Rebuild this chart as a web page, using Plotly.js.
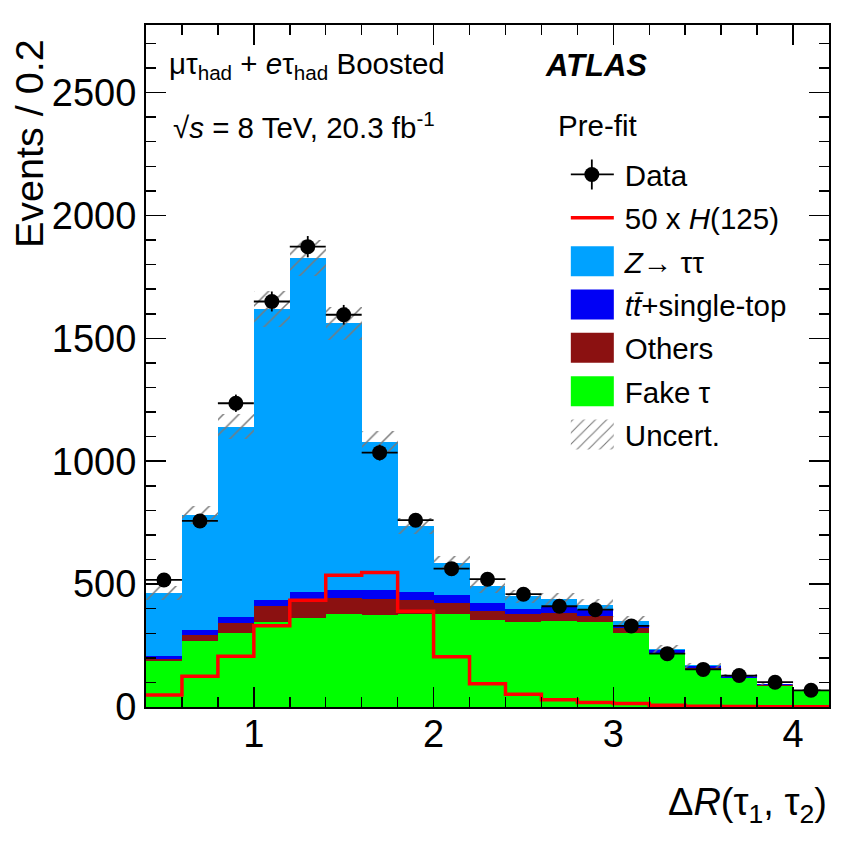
<!DOCTYPE html>
<html>
<head>
<meta charset="utf-8">
<script src="https://cdn.plot.ly/plotly-3.0.1.min.js"></script>
<style>html,body{margin:0;padding:0;background:#fff;}#chart{width:848px;height:850px;}</style>
</head>
<body>
<div id="chart"></div>
<script>
// Bin edges and centres of ΔR(τ1, τ2), width 0.2
const binLow = [0.4,0.6,0.8,1.0,1.2,1.4,1.6,1.8,2.0,2.2,2.4,2.6,2.8,3.0,3.2,3.4,3.6,3.8,4.0];
const binHigh = 4.2;
const binWidth = 0.2;

// Background processes (events per bin), stacked bottom-up: fake, others, top, Z->tautau
const fakeTau = [187,269,302,346,364,377,375,380,380,356,346,350,346,301,215,152,116,84,66];
const others  = [10,22,41,64,76,68,63,54,44,34,31,33,23,22,6,6,4,4,2];
const topBkg  = [11,24,24,27,26,33,38,32,31,35,23,25,25,10,10,8,5,4,2];
const ztautau = [256,467,774,1183,1360,1083,603,271,132,67,51,30,23,17,5,3,3,3,1];

// Total background uncertainty (half width of band)
const uncert  = [27,37,50,72,73,68,45,34,28,27,26,24,22,20,15,10,7,5,4];

// Data
const dataVals = [517,757,1236,1650,1873,1596,1035,760,563,520,459,410,396,330,217,153,128,101,68];

// Signal H(125) scaled by 50
const higgs50 = [49,125,206,331,434,536,547,390,204,95,52,30,18,14,7,3,2,1,1];

const centers = binLow.map(v => +(v + binWidth/2).toFixed(2));
function cum(arrs){ return arrs[0].map((_,i)=>arrs.reduce((s,a)=>s+a[i],0)); }
const cFake = cum([fakeTau]);
const cOthers = cum([fakeTau, others]);
const cTop = cum([fakeTau, others, topBkg]);
const cZ = cum([fakeTau, others, topBkg, ztautau]);

const FONT = 'Liberation Sans, Arial, Helvetica, sans-serif';

function barTrace(name, y, color, rank){
  return {type:'bar', x:centers, y:y, width:binWidth, name:name,
    marker:{color:color, line:{width:0}}, legendrank:rank, legendgroup:name, hoverinfo:'skip'};
}

const traces = [
  barTrace('<i>Z</i>\u2192 \u03c4\u03c4', cZ, '#00a2ff', 3),
  barTrace('<i>t</i><i>t\u0304</i>+single-top', cTop, '#0000f5', 4),
  barTrace('Others', cOthers, '#8b1111', 5),
  barTrace('Fake \u03c4', cFake, '#00ff00', 6),
  {type:'bar', x:centers, y:uncert.map(u=>2*u), base:cZ.map((t,i)=>t-uncert[i]), width:binWidth,
    name:'Uncert.', legendrank:7, legendgroup:'unc',
    marker:{color:'rgba(0,0,0,0)', line:{width:0},
      pattern:{shape:'/', fgcolor:'#7a7a7a', bgcolor:'rgba(0,0,0,0)', size:11, solidity:0.14}}},
  {type:'scatter', mode:'lines', x:binLow.concat([binHigh]), y:higgs50.concat([higgs50[higgs50.length-1]]),
    line:{shape:'hv', color:'#ff0000', width:3.5}, name:'50 x <i>H</i>(125)', legendrank:2, legendgroup:'h'},
  {type:'scatter', mode:'markers', x:centers, y:dataVals, name:'Data', legendrank:1, legendgroup:'data',
    marker:{color:'black', size:15, symbol:'circle'},
    error_x:{type:'constant', value:binWidth/2, color:'black', thickness:1.8, width:0},
    error_y:{type:'sqrt', color:'black', thickness:1.8, width:0}}
];

const txt = (t, x, y, size, extra) => Object.assign({text:t, xref:'paper', yref:'paper', x:x, y:y,
  xanchor:'left', yanchor:'middle', showarrow:false, font:{family:FONT, size:size, color:'black'}}, extra||{});

const layout = {
  width:848, height:850,
  margin:{l:146, r:19, t:25, b:143},
  paper_bgcolor:'white', plot_bgcolor:'white',
  barmode:'overlay', bargap:0,
  font:{family:FONT, color:'black'},
  showlegend:true,
  legend:{x:0.622, y:0.8185, xanchor:'left', yanchor:'top', bgcolor:'rgba(0,0,0,0)',
    font:{family:FONT, size:29.5, color:'black'}, traceorder:'grouped', tracegroupgap:2, itemwidth:44},
  xaxis:{range:[0.4,4.2], tick0:0, dtick:1, ticks:'inside', ticklen:20, tickwidth:1.5, tickcolor:'black',
    minor:{dtick:0.2, tick0:0, ticks:'inside', ticklen:10, tickwidth:1.5, tickcolor:'black'},
    showline:true, linewidth:2, linecolor:'black', mirror:'allticks', showgrid:false, zeroline:false,
    ticklabelstandoff:-8,
    tickfont:{family:FONT, size:38, color:'black'}},
  yaxis:{range:[0,2775], tick0:0, dtick:500, ticks:'inside', ticklen:20, tickwidth:1.5, tickcolor:'black',
    minor:{dtick:100, tick0:0, ticks:'inside', ticklen:10, tickwidth:1.5, tickcolor:'black'},
    showline:true, linewidth:2, linecolor:'black', mirror:'allticks', showgrid:false, zeroline:false,
    tickfont:{family:FONT, size:38, color:'black'}},
  annotations:[
    txt('\u03bc\u03c4<sub>had</sub> + <i>e</i>\u03c4<sub>had</sub> Boosted', 0.031, 0.94, 29.5),
    txt('<b><i>ATLAS</i></b>', 0.581, 0.94, 31),
    txt('\u221a<i>s</i> = 8 TeV, 20.3 fb<sup>-1</sup>', 0.036, 0.852, 29.5),
    txt('Pre-fit', 0.601, 0.852, 29.5),
    txt('Events / 0.2', -0.171, 0.982, 39.5, {textangle:-90, xanchor:'center', yanchor:'top'}),
    txt('\u0394<i>R</i>(\u03c4<sub>1</sub>, \u03c4<sub>2</sub>)', 1.0, -0.144, 38, {xanchor:'right'})
  ]
};

Plotly.newPlot('chart', traces, layout, {staticPlot:true, displayModeBar:false}).then(function(gd){
  const NS = 'http://www.w3.org/2000/svg';
  gd.querySelectorAll('.legend .traces').forEach(function(tr){
    const layers = tr.querySelector('g.layers');
    if (layers) layers.setAttribute('transform', 'translate(-6,0) ' + (layers.getAttribute('transform')||''));
    tr.querySelectorAll('path.legendbar, path.legendundefined').forEach(p => p.setAttribute('d','M22,15H-22V-15H22Z'));
    const label = tr.querySelector('text.legendtext');
    if (label && label.textContent.trim() === 'Data') {
      const pt = tr.querySelector('path.scatterpts');
      if (pt) {
        const err = document.createElementNS(NS, 'path');
        err.setAttribute('d', 'M-22,0H22M0,-15V15');
        err.setAttribute('stroke', 'black');
        err.setAttribute('stroke-width', '1.8');
        err.setAttribute('fill', 'none');
        if (pt.getAttribute('transform')) err.setAttribute('transform', pt.getAttribute('transform'));
        pt.parentNode.insertBefore(err, pt);
      }
    }
  });
});
</script>
</body>
</html>
